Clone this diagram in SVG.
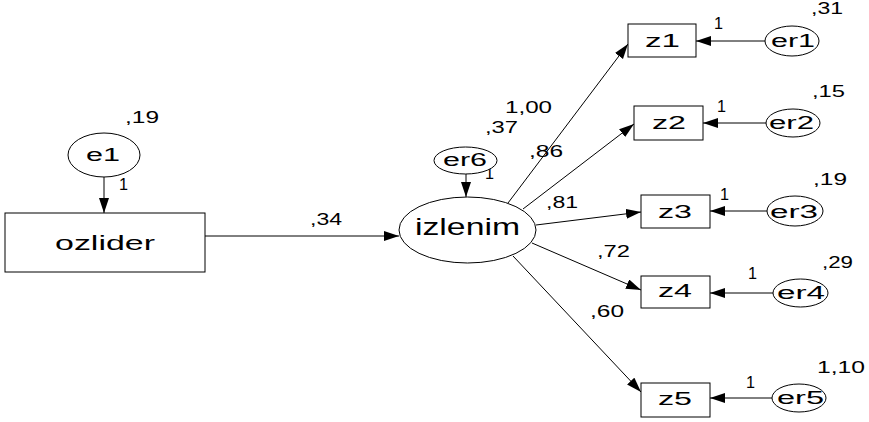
<svg xmlns="http://www.w3.org/2000/svg" width="869" height="422" viewBox="0 0 869 422">
  <style>
    text { font-family: "Liberation Sans", Arial, sans-serif; fill: #000; }
    .box { fill: #fff; stroke: #000; stroke-width: 1; }
    .var { fill: #fff; stroke: #000; stroke-width: 1; }
    .edge { fill: none; stroke: #000; stroke-width: 1; marker-end: url(#arrow); }
    .num { font-size: 16px; }
    .one { font-size: 16px; }
    .lbl { font-size: 18px; }
  </style>
  <defs>
    <marker id="arrow" markerUnits="userSpaceOnUse" markerWidth="16" markerHeight="12" refX="15" refY="5" orient="auto">
      <path d="M0,0 L15,5 L0,10 z" fill="#000"/>
    </marker>
  </defs>

  <rect width="869" height="422" fill="#fff"/>

  <!-- paths -->
  <g id="connectors">
    <line class="edge" x1="104" y1="177" x2="104" y2="213"/>
    <line class="edge" x1="205" y1="236" x2="399" y2="236"/>
    <line class="edge" x1="466" y1="174" x2="466" y2="197"/>
    <line class="edge" x1="508" y1="203" x2="628" y2="44"/>
    <line class="edge" x1="523" y1="209" x2="634" y2="124"/>
    <line class="edge" x1="536" y1="225" x2="641" y2="212"/>
    <line class="edge" x1="532" y1="243" x2="641" y2="290"/>
    <line class="edge" x1="513" y1="256" x2="641" y2="392"/>
    <line class="edge" x1="765" y1="41" x2="696" y2="41"/>
    <line class="edge" x1="766" y1="123" x2="703" y2="123"/>
    <line class="edge" x1="767" y1="211" x2="710" y2="211"/>
    <line class="edge" x1="773" y1="293" x2="710" y2="293"/>
    <line class="edge" x1="772" y1="398" x2="710" y2="398"/>

    <!-- weights -->
    <text class="one" x="119" y="190" textLength="9" lengthAdjust="spacingAndGlyphs">1</text>
    <text class="num" x="310" y="225" textLength="32" lengthAdjust="spacingAndGlyphs">,34</text>
    <text class="one" x="485" y="179" textLength="9" lengthAdjust="spacingAndGlyphs">1</text>
    <text class="num" x="505" y="113" textLength="47" lengthAdjust="spacingAndGlyphs">1,00</text>
    <text class="num" x="529" y="157" textLength="34" lengthAdjust="spacingAndGlyphs">,86</text>
    <text class="num" x="546" y="208" textLength="32" lengthAdjust="spacingAndGlyphs">,81</text>
    <text class="num" x="597" y="257" textLength="33" lengthAdjust="spacingAndGlyphs">,72</text>
    <text class="num" x="590" y="317" textLength="34" lengthAdjust="spacingAndGlyphs">,60</text>
    <text class="one" x="714" y="29" textLength="9" lengthAdjust="spacingAndGlyphs">1</text>
    <text class="one" x="717" y="112" textLength="9" lengthAdjust="spacingAndGlyphs">1</text>
    <text class="one" x="720" y="200" textLength="9" lengthAdjust="spacingAndGlyphs">1</text>
    <text class="one" x="748" y="279" textLength="9" lengthAdjust="spacingAndGlyphs">1</text>
    <text class="one" x="746" y="388" textLength="9" lengthAdjust="spacingAndGlyphs">1</text>
  </g>

  <g id="ozlider">
    <rect class="box" x="5" y="213" width="200" height="59"/>
    <text x="55" y="250" font-size="21" textLength="100" lengthAdjust="spacingAndGlyphs">ozlider</text>
  </g>

  <g id="e1">
    <ellipse class="var" cx="104" cy="155" rx="36" ry="22"/>
    <text x="86" y="161" font-size="18" textLength="34" lengthAdjust="spacingAndGlyphs">e1</text>
    <text class="num" x="125" y="123" textLength="34" lengthAdjust="spacingAndGlyphs">,19</text>
  </g>

  <g id="izlenim">
    <ellipse class="var" cx="467.5" cy="230" rx="68.5" ry="33"/>
    <text x="415" y="235" font-size="24" textLength="105" lengthAdjust="spacingAndGlyphs">izlenim</text>
  </g>

  <g id="er6">
    <ellipse class="var" cx="465.5" cy="160.5" rx="31.5" ry="13.5"/>
    <text class="lbl" x="443" y="166" textLength="44" lengthAdjust="spacingAndGlyphs">er6</text>
    <text class="num" x="485" y="133" textLength="33" lengthAdjust="spacingAndGlyphs">,37</text>
  </g>

  <g id="z1">
    <rect class="box" x="628" y="24" width="68" height="33"/>
    <text class="lbl" x="645" y="47" textLength="35" lengthAdjust="spacingAndGlyphs">z1</text>
  </g>
  <g id="z2">
    <rect class="box" x="634" y="106" width="69" height="34"/>
    <text class="lbl" x="652" y="129" textLength="34" lengthAdjust="spacingAndGlyphs">z2</text>
  </g>
  <g id="z3">
    <rect class="box" x="641" y="195" width="69" height="33"/>
    <text class="lbl" x="658" y="218" textLength="34" lengthAdjust="spacingAndGlyphs">z3</text>
  </g>
  <g id="z4">
    <rect class="box" x="641" y="276" width="69" height="32"/>
    <text class="lbl" x="658" y="297" textLength="34" lengthAdjust="spacingAndGlyphs">z4</text>
  </g>
  <g id="z5">
    <rect class="box" x="641" y="383" width="69" height="34"/>
    <text class="lbl" x="658" y="405" textLength="34" lengthAdjust="spacingAndGlyphs">z5</text>
  </g>

  <g id="er1">
    <ellipse class="var" cx="792" cy="41" rx="27" ry="15"/>
    <text class="lbl" x="771" y="47" textLength="44" lengthAdjust="spacingAndGlyphs">er1</text>
    <text class="num" x="811" y="14" textLength="32" lengthAdjust="spacingAndGlyphs">,31</text>
  </g>
  <g id="er2">
    <ellipse class="var" cx="793" cy="123" rx="27" ry="14"/>
    <text class="lbl" x="769" y="129" textLength="45" lengthAdjust="spacingAndGlyphs">er2</text>
    <text class="num" x="812" y="97" textLength="33" lengthAdjust="spacingAndGlyphs">,15</text>
  </g>
  <g id="er3">
    <ellipse class="var" cx="795" cy="211" rx="28" ry="15"/>
    <text class="lbl" x="770" y="218" textLength="48" lengthAdjust="spacingAndGlyphs">er3</text>
    <text class="num" x="813" y="185" textLength="34" lengthAdjust="spacingAndGlyphs">,19</text>
  </g>
  <g id="er4">
    <ellipse class="var" cx="800.5" cy="293" rx="27.5" ry="14"/>
    <text class="lbl" x="777" y="299" textLength="48" lengthAdjust="spacingAndGlyphs">er4</text>
    <text class="num" x="822" y="268" textLength="31" lengthAdjust="spacingAndGlyphs">,29</text>
  </g>
  <g id="er5">
    <ellipse class="var" cx="799" cy="398" rx="27" ry="14"/>
    <text class="lbl" x="777" y="404" textLength="47" lengthAdjust="spacingAndGlyphs">er5</text>
    <text class="num" x="817" y="373" textLength="48" lengthAdjust="spacingAndGlyphs">1,10</text>
  </g>
</svg>
